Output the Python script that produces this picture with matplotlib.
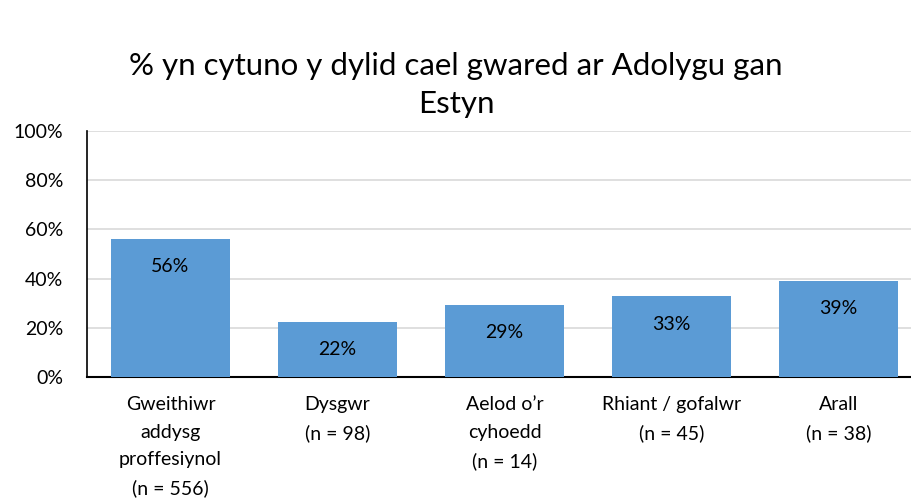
import matplotlib

matplotlib.use("Agg")
import matplotlib.pyplot as plt

categories = [
    "Gweithiwr\naddysg\nproffesiynol\n(n = 556)",
    "Dysgwr\n(n = 98)",
    "Aelod o’r\ncyhoedd\n(n = 14)",
    "Rhiant / gofalwr\n(n = 45)",
    "Arall\n(n = 38)",
]
values = [0.563, 0.224, 0.293, 0.329, 0.392]
yticks = [0, 0.2, 0.4, 0.6, 0.8, 1.0]
title = "% yn cytuno y dylid cael gwared ar Adolygu gan\nEstyn"

plt.rcParams["font.family"] = ["Lato", "DejaVu Sans"]

fig = plt.figure(figsize=(9.12, 5.03), dpi=100)
ax = fig.add_axes([87 / 912, 126 / 503, 835 / 912, 246 / 503])

x = list(range(len(categories)))
bars = ax.bar(x, values, width=0.71, color="#5b9bd5", zorder=3)
for b, v in zip(bars, values):
    ax.annotate(f"{v * 100:.0f}%", (b.get_x() + b.get_width() / 2, v),
                xytext=(0, -28), textcoords="offset pixels",
                ha="center", va="center", fontsize=14, color="black", zorder=4)

ax.set_xlim(-0.5, len(categories) - 0.5)
ax.set_ylim(0, 1.0)
ax.set_yticks(yticks)
ax.set_yticklabels([f"{t * 100:.0f}%" for t in yticks], fontsize=14)
ax.set_xticks(x)
ax.set_xticklabels(categories, fontsize=14, linespacing=1.75, va="top")
ax.tick_params(axis="y", length=0, pad=17)
ax.tick_params(axis="x", length=0, pad=14)
ax.grid(axis="y", color="#d9d9d9", linewidth=1.2, zorder=0)

for side in ("top", "right"):
    ax.spines[side].set_visible(False)
ax.spines["left"].set_color("black")
ax.spines["left"].set_linewidth(1.2)
ax.spines["bottom"].set_color("black")
ax.spines["bottom"].set_linewidth(1.5)

fig.text(456 / 912, 1 - 85 / 503, title, ha="center", va="center",
         fontsize=22.5, linespacing=1.45)

fig.savefig("out.png", dpi=100)
